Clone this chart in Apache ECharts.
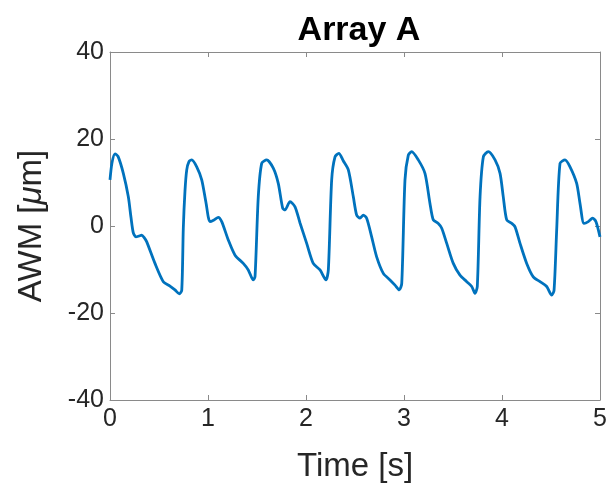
<!DOCTYPE html>
<html><head><meta charset="utf-8">
<script src="https://cdn.jsdelivr.net/npm/echarts@6/dist/echarts.min.js"></script>
<style>html,body{margin:0;padding:0;background:#fff}#c{width:616px;height:490px}</style>
</head><body><div id="c"></div>
<script>
var xTicks = [0, 1, 2, 3, 4, 5];
var yTicks = [-40, -20, 0, 20, 40];
var time = [0.000,0.020,0.051,0.082,0.136,0.187,0.214,0.238,0.265,0.296,0.323,0.347,0.374,0.459,0.544,0.612,0.663,0.707,0.732,0.748,0.765,0.783,0.806,0.834,0.885,0.936,0.980,1.020,1.061,1.105,1.140,1.207,1.276,1.360,1.411,1.462,1.480,1.513,1.548,1.599,1.666,1.717,1.762,1.786,1.837,1.888,1.939,2.007,2.074,2.143,2.204,2.228,2.262,2.296,2.335,2.380,2.432,2.483,2.517,2.551,2.585,2.619,2.670,2.721,2.789,2.857,2.908,2.952,2.977,3.010,3.044,3.078,3.146,3.214,3.265,3.299,3.350,3.385,3.436,3.503,3.571,3.640,3.691,3.724,3.748,3.776,3.810,3.860,3.929,3.980,4.013,4.048,4.099,4.133,4.184,4.252,4.319,4.388,4.456,4.507,4.531,4.558,4.592,4.643,4.694,4.762,4.796,4.837,4.881,4.925,4.959,5.000];
var awm = [10.6,14.5,16.6,16.0,12.1,6.7,2.0,-1.6,-2.5,-2.3,-2.1,-2.6,-3.6,-8.6,-12.8,-13.8,-14.7,-15.6,-14.8,-0.5,8.0,12.9,14.8,15.2,13.6,10.6,5.3,1.0,1.4,2.0,1.0,-3.2,-6.7,-8.6,-10.1,-12.4,-11.6,6.7,14.4,15.2,13.3,9.8,4.1,3.7,5.6,4.4,0.7,-4.0,-8.6,-10.1,-12.4,-10.1,10.6,15.9,16.7,15.0,12.9,6.7,2.5,1.8,2.5,1.8,-2.5,-7.1,-10.9,-12.4,-13.6,-14.7,-13.2,10.6,16.3,17.1,15.2,12.1,5.2,1.4,0.6,-0.5,-4.0,-8.6,-11.3,-12.8,-13.9,-15.5,-13.9,6.7,15.9,17.1,15.2,12.1,6.7,1.4,0.6,-0.2,-4.0,-8.6,-11.7,-12.8,-13.9,-15.9,-14.8,-0.9,14.4,15.2,13.6,9.8,5.2,0.6,1.0,1.8,1.0,-2.5];

var chart = echarts.init(document.getElementById('c'));
var font = 'Liberation Sans, Arial, Helvetica, sans-serif';
var axisGray = '#8a8a8a';
var txt = '#262626';
function ax(extra){
  return Object.assign({
    type: 'value',
    axisLine: {show: true, onZero: false, lineStyle: {color: axisGray, width: 1}},
    axisTick: {show: true, inside: true, length: 5, lineStyle: {color: axisGray}},
    splitLine: {show: false}
  }, extra);
}
chart.setOption({
  animation: false,
  title: {text: 'Array A', left: 354, top: 9, textAlign: 'center',
    textStyle: {fontFamily: font, fontSize: 34, fontWeight: 'bold', color: '#000'}},
  grid: {left: 110, right: 16, top: 52, bottom: 90, containLabel: false},
  xAxis: [
    ax({min: xTicks[0], max: xTicks[xTicks.length-1], interval: 1, position: 'bottom',
      name: 'Time [s]', nameLocation: 'middle', nameGap: 50,
      nameTextStyle: {fontFamily: font, fontSize: 33, color: txt},
      axisLabel: {fontFamily: font, fontSize: 25, color: txt, margin: 7}}),
    ax({min: xTicks[0], max: xTicks[xTicks.length-1], interval: 1, position: 'top', axisLabel: {show: false}})
  ],
  yAxis: [
    ax({min: yTicks[0], max: yTicks[yTicks.length-1], interval: 20, position: 'left',
      name: 'AWM [{i|μ}m]', nameLocation: 'middle', nameGap: 62,
      nameTextStyle: {fontFamily: font, fontSize: 33, color: txt,
        rich: {i: {fontFamily: font, fontSize: 33, fontStyle: 'italic', color: txt}}},
      axisLabel: {fontFamily: font, fontSize: 25, color: txt, margin: 6}}),
    ax({min: yTicks[0], max: yTicks[yTicks.length-1], interval: 20, position: 'right', axisLabel: {show: false}})
  ],
  series: [{
    type: 'line', xAxisIndex: 0, yAxisIndex: 0,
    data: time.map(function(t, i){ return [t, awm[i]]; }),
    showSymbol: false, smooth: 0.25,
    lineStyle: {color: '#0072BD', width: 2.8}
  }]
});
</script></body></html>
